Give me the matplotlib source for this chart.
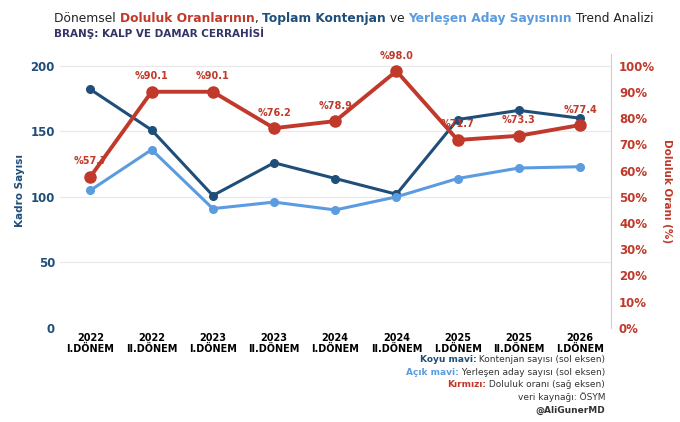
import matplotlib.pyplot as plt

periods = ['2022\nI.DÖNEM', '2022\nII.DÖNEM', '2023\nI.DÖNEM', '2023\nII.DÖNEM', '2024\nI.DÖNEM',
           '2024\nII.DÖNEM', '2025\nI.DÖNEM', '2025\nII.DÖNEM', '2026\nI.DÖNEM']
kontenjan = [182, 151, 101, 126, 114, 102, 159, 166, 160]
yerlesen = [105, 136, 91, 96, 90, 100, 114, 122, 123]
doluluk = [57.7, 90.1, 90.1, 76.2, 78.9, 98.0, 71.7, 73.3, 77.4]

DARK = '#1f4e79'
LIGHT = '#5b9be0'
RED = '#c0392b'

fig = plt.figure(figsize=(6.8, 4.22), dpi=100)
ax = fig.add_axes([0.088, 0.223, 0.81, 0.649])
x = range(len(periods))
ax.plot(x, kontenjan, color=DARK, lw=2.2, marker='o', ms=5.5, zorder=3)
ax.plot(x, yerlesen, color=LIGHT, lw=2.2, marker='o', ms=5.5, zorder=3)
ax.set_ylim(0, 209)
ax.set_yticks([0, 50, 100, 150, 200])
ax.set_xlim(-0.5, 8.5)
ax.set_xticks(list(x))
ax.set_xticklabels(periods, fontsize=7, fontweight='bold')
ax.tick_params(axis='y', colors=DARK, labelsize=8.5, length=0)
for t in ax.get_yticklabels():
    t.set_fontweight('bold')
ax.tick_params(axis='x', length=0)
ax.set_ylabel('Kadro Sayısı', color=DARK, fontsize=7.5, fontweight='bold')
ax.grid(axis='y', color='#e8e8e8', lw=0.8)
for s in ax.spines.values():
    s.set_visible(False)

ax2 = ax.twinx()
ax2.plot(x, doluluk, color=RED, lw=2.8, marker='o', ms=8, zorder=4)
ax2.set_ylim(0, 104.5)
ax2.set_yticks(range(0, 101, 10))
ax2.set_yticklabels([f'{v}%' for v in range(0, 101, 10)])
ax2.tick_params(axis='y', colors=RED, labelsize=8.5, length=0, pad=6)
for t in ax2.get_yticklabels():
    t.set_fontweight('bold')
ax2.set_ylabel('Doluluk Oranı (%)', color=RED, fontsize=7.5, fontweight='bold', rotation=270, labelpad=12)
for s in ax2.spines.values():
    s.set_visible(False)
ax2.spines['right'].set_visible(True)
ax2.spines['right'].set_color('#e8c4c0')
ax2.spines['right'].set_linewidth(0.8)
for i, v in enumerate(doluluk):
    ax2.text(i, v + 4, f'%{v}', color=RED, fontsize=7, fontweight='bold', ha='center', va='bottom')

parts = [('Dönemsel ', '#222222', 'normal'), ('Doluluk Oranlarının', RED, 'bold'), (', ', '#222222', 'normal'),
         ('Toplam Kontenjan', DARK, 'bold'), (' ve ', '#222222', 'normal'),
         ('Yerleşen Aday Sayısının', LIGHT, 'bold'), (' Trend Analizi', '#222222', 'normal')]
renderer = fig.canvas.get_renderer()
xpos = 0.08
for txt, c, w in parts:
    t = fig.text(xpos, 0.955, txt, fontsize=8.8, color=c, fontweight=w, ha='left', va='center')
    xpos += t.get_window_extent(renderer=renderer).width / fig.bbox.width
fig.text(0.08, 0.921, 'BRANŞ: KALP VE DAMAR CERRAHİSİ', fontsize=7.5, color='#333366', fontweight='bold', va='center')

notes = [[('Koyu mavi:', DARK, 'bold'), (' Kontenjan sayısı (sol eksen)', '#333333', 'normal')],
         [('Açık mavi:', LIGHT, 'bold'), (' Yerleşen aday sayısı (sol eksen)', '#333333', 'normal')],
         [('Kırmızı:', RED, 'bold'), (' Doluluk oranı (sağ eksen)', '#333333', 'normal')],
         [('veri kaynağı: ÖSYM', '#333333', 'normal')],
         [('@AliGunerMD', '#333333', 'bold')]]
y = 0.148
for line in notes:
    xr = 0.89
    for txt, c, w in reversed(line):
        t = fig.text(xr, y, txt, fontsize=6.5, color=c, fontweight=w, ha='right', va='center')
        xr -= t.get_window_extent(renderer=renderer).width / fig.bbox.width
    y -= 0.03

fig.savefig('out.png', dpi=100)
